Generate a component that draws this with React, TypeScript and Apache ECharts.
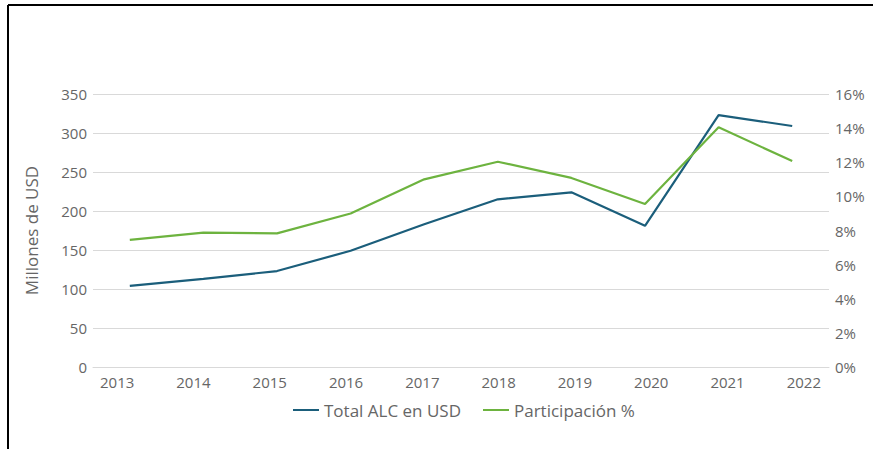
import React, { useEffect, useRef } from "react";
import * as echarts from "echarts";

const years = ["2013", "2014", "2015", "2016", "2017", "2018", "2019", "2020", "2021", "2022"];
const totalALC = [104, 113, 123, 149, 183, 215, 224, 181, 323, 309];
const participacion = [7.45, 7.87, 7.83, 9.0, 11.0, 12.03, 11.08, 9.55, 14.05, 12.07];

const TEXT = "#666666";
const FONT = "'Open Sans', 'Noto Sans', sans-serif";

export default function App() {
  const ref = useRef<HTMLDivElement>(null);
  useEffect(() => {
    document.body.style.margin = "0";
    const chart = echarts.init(ref.current!, null, { renderer: "svg" });
    chart.setOption({
      animation: false,
      backgroundColor: "#ffffff",
      textStyle: { fontFamily: FONT, color: TEXT },
      graphic: [
        { type: "line", shape: { x1: 8, y1: 5, x2: 873, y2: 5 }, style: { stroke: "#000", lineWidth: 2 } },
        { type: "line", shape: { x1: 8, y1: 5, x2: 8, y2: 449 }, style: { stroke: "#000", lineWidth: 2 } },
      ],
      grid: [
        { left: 93, right: 44, top: 94, bottom: 82 },
        { left: 79, right: 31, top: 94, bottom: 82 },
      ],
      legend: {
        top: 395,
        left: 288,
        itemWidth: 26,
        itemHeight: 2,
        itemGap: 22,
        icon: "rect",
        textStyle: { fontFamily: FONT, color: TEXT, fontSize: 17, lineHeight: 20 },
        data: ["Total ALC en USD", "Participación %"],
      },
      xAxis: [
        {
          type: "category",
          gridIndex: 0,
          data: years,
          boundaryGap: true,
          axisLine: { lineStyle: { color: "#d9d9d9" } },
          axisTick: { show: false },
          axisLabel: { show: false },
        },
        {
          type: "category",
          gridIndex: 1,
          data: years,
          boundaryGap: true,
          axisLine: { show: false },
          axisTick: { show: false },
          axisLabel: { color: TEXT, fontSize: 15, margin: 7, fontFamily: FONT },
        },
      ],
      yAxis: [
        {
          type: "value",
          gridIndex: 0,
          min: 0,
          max: 350,
          interval: 50,
          name: "Millones de USD",
          nameLocation: "middle",
          nameGap: 53,
          nameTextStyle: { color: TEXT, fontSize: 17, fontFamily: FONT },
          axisLine: { show: false },
          axisTick: { show: false },
          axisLabel: { color: TEXT, fontSize: 15, margin: 6, fontFamily: FONT },
          splitLine: { lineStyle: { color: "#d9d9d9" } },
        },
        {
          type: "value",
          gridIndex: 0,
          min: 0,
          max: 16,
          interval: 2,
          axisLine: { show: false },
          axisTick: { show: false },
          axisLabel: { color: TEXT, fontSize: 15, margin: 6, fontFamily: FONT, formatter: "{value}%" },
          splitLine: { show: false },
        },
        {
          type: "value",
          gridIndex: 1,
          min: 0,
          max: 350,
          show: false,
        },
      ],
      series: [
        {
          name: "Total ALC en USD",
          type: "line",
          data: totalALC,
          xAxisIndex: 0,
          yAxisIndex: 0,
          symbol: "none",
          lineStyle: { color: "#1b5e7b", width: 2.2 },
          itemStyle: { color: "#1b5e7b" },
        },
        {
          name: "Participación %",
          type: "line",
          data: participacion,
          xAxisIndex: 0,
          yAxisIndex: 1,
          symbol: "none",
          lineStyle: { color: "#6db33f", width: 2.2 },
          itemStyle: { color: "#6db33f" },
        },
      ],
    });
    return () => chart.dispose();
  }, []);
  return <div ref={ref} style={{ width: 873, height: 449, position: "absolute", left: 0, top: 0 }} />;
}
